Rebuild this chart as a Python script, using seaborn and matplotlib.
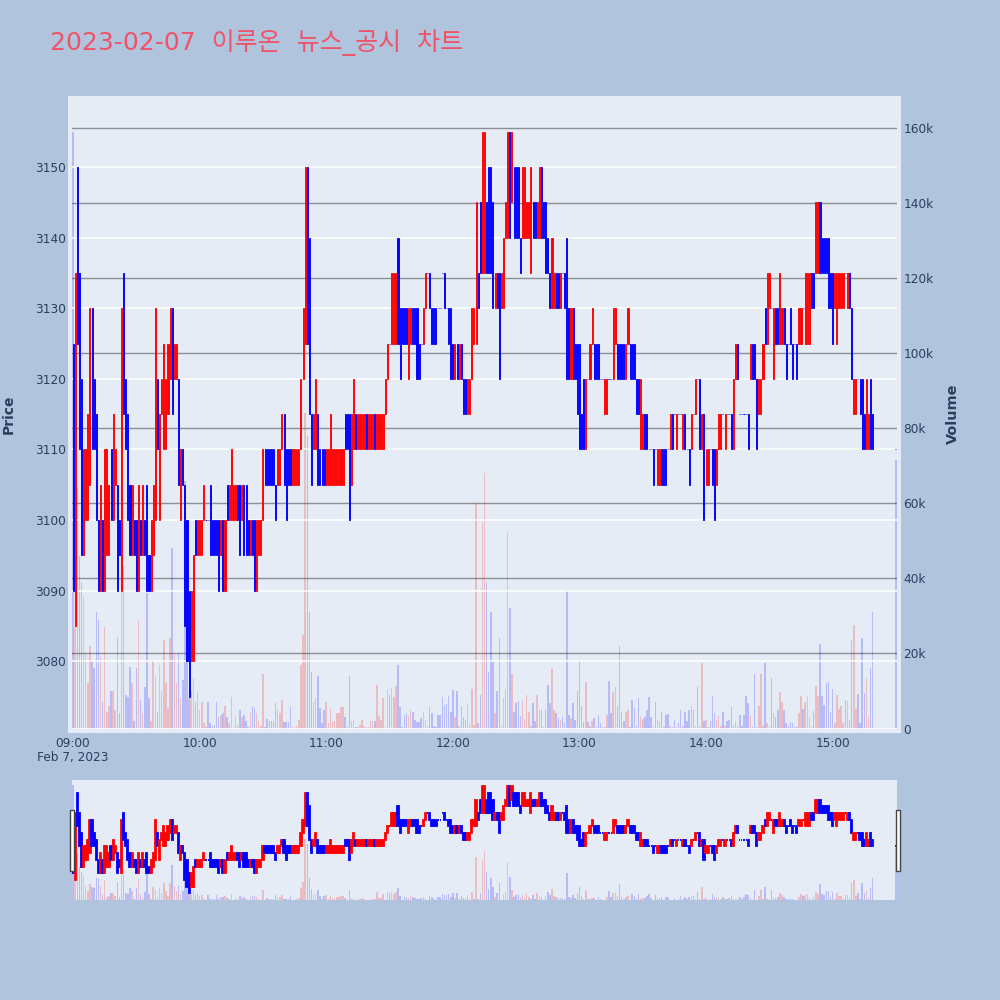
import matplotlib
matplotlib.use("Agg")
import matplotlib.pyplot as plt
from matplotlib.patches import Rectangle
import numpy as np
import pandas as pd
import seaborn as sns

title = "2023-02-07  이루온  뉴스_공시  차트"
minutes = list(range(380)) + [390]
opens = [
 3125,3085,3150,3135,3120,3095,3100,3100,3105,3130,
 3120,3115,3100,3090,3100,3090,3095,3095,3110,3100,
 3105,3105,3100,3090,3135,3120,3115,3105,3095,3100,
 3100,3090,3100,3095,3100,3105,3095,3090,3095,3100,
 3120,3100,3115,3110,3110,3115,3120,3130,3120,3120,
 3120,3100,3110,3105,3100,3090,3080,3080,3100,3095,
 3095,3095,3100,3100,3100,3105,3100,3100,3100,3100,
 3095,3100,3090,3105,3100,3100,3100,3100,3105,3105,
 3100,3105,3105,3100,3095,3100,3100,3090,3095,3095,
 3100,3110,3110,3110,3110,3110,3105,3105,3105,3110,
 3115,3110,3110,3110,3105,3105,3105,3105,3110,3120,
 3125,3150,3140,3115,3110,3110,3115,3110,3110,3110,
 3105,3105,3105,3105,3105,3105,3105,3105,3105,3115,
 3115,3115,3105,3110,3115,3110,3110,3110,3110,3115,
 3110,3110,3110,3115,3110,3110,3110,3110,3115,3120,
 3125,3125,3125,3125,3140,3130,3130,3130,3130,3120,
 3125,3130,3130,3130,3125,3125,3125,3130,3135,3135,
 3130,3130,3130,3130,3130,3135,3135,3130,3130,3130,
 3125,3120,3125,3120,3125,3120,3120,3115,3115,3120,
 3125,3125,3135,3145,3135,3135,3145,3150,3150,3145,
 3130,3135,3135,3130,3130,3140,3140,3155,3145,3150,
 3150,3150,3140,3140,3140,3140,3140,3135,3145,3145,
 3140,3140,3150,3145,3145,3140,3135,3130,3130,3135,
 3135,3130,3135,3135,3140,3130,3120,3130,3125,3125,
 3125,3115,3120,3110,3120,3120,3125,3125,3125,3125,
 3120,3120,3115,3115,3120,3120,3120,3125,3125,3125,
 3125,3125,3120,3125,3125,3125,3125,3120,3120,3110,
 3110,3115,3115,3110,3110,3110,3110,3105,3105,3110,
 3110,3110,3110,3110,3115,3115,3110,3115,3115,3110,
 3115,3110,3110,3110,3115,3115,3120,3120,3110,3115,
 3105,3105,3110,3110,3110,3105,3110,3110,3115,3110,
 3115,3115,3115,3110,3120,3125,3115,3115,3115,3115,
 3115,3120,3125,3125,3120,3115,3115,3120,3130,3125,
 3130,3130,3120,3130,3130,3125,3125,3130,3125,3125,
 3130,3125,3125,3125,3125,3125,3130,3125,3125,3125,
 3135,3135,3135,3135,3145,3140,3140,3140,3140,3135,
 3135,3130,3125,3130,3130,3130,3135,3130,3135,3130,
 3115,3115,3120,3120,3120,3115,3110,3110,3120,3115,
 3110]
closes = [
 3090,3135,3125,3110,3095,3110,3110,3115,3130,3110,
 3110,3100,3090,3105,3090,3110,3110,3105,3100,3115,
 3110,3090,3095,3130,3115,3110,3100,3095,3105,3095,
 3090,3105,3095,3105,3095,3090,3090,3100,3105,3130,
 3110,3115,3120,3125,3120,3125,3130,3115,3125,3125,
 3105,3110,3105,3085,3080,3075,3090,3095,3095,3100,
 3100,3100,3105,3100,3100,3095,3095,3095,3095,3090,
 3100,3090,3100,3100,3105,3110,3105,3105,3100,3095,
 3105,3095,3095,3095,3100,3095,3090,3100,3100,3100,
 3110,3105,3105,3105,3105,3105,3100,3110,3110,3115,
 3105,3100,3105,3105,3110,3110,3110,3110,3120,3130,
 3150,3125,3115,3105,3115,3120,3105,3105,3105,3105,
 3110,3110,3115,3110,3110,3110,3110,3110,3110,3110,
 3110,3100,3115,3120,3110,3115,3115,3115,3115,3110,
 3115,3115,3115,3110,3115,3115,3115,3115,3120,3125,
 3125,3135,3135,3135,3125,3120,3125,3125,3125,3130,
 3130,3125,3125,3120,3120,3125,3130,3135,3135,3130,
 3125,3125,3125,3130,3130,3135,3130,3130,3125,3120,
 3120,3125,3120,3125,3120,3115,3115,3120,3120,3130,
 3130,3145,3130,3135,3155,3155,3135,3135,3135,3130,
 3135,3130,3120,3135,3140,3145,3155,3140,3155,3140,
 3140,3140,3135,3150,3150,3145,3145,3150,3140,3140,
 3145,3150,3140,3140,3135,3135,3130,3140,3135,3130,
 3130,3135,3135,3130,3120,3120,3130,3120,3120,3115,
 3110,3110,3110,3120,3120,3125,3130,3120,3120,3120,
 3120,3120,3120,3120,3120,3120,3130,3130,3120,3120,
 3120,3120,3125,3130,3120,3120,3120,3115,3115,3120,
 3115,3110,3110,3110,3110,3105,3110,3110,3110,3105,
 3105,3105,3110,3115,3110,3115,3115,3115,3115,3115,
 3110,3110,3105,3115,3115,3120,3120,3110,3115,3100,
 3110,3110,3110,3105,3100,3110,3115,3115,3115,3115,
 3115,3115,3110,3120,3125,3120,3115,3115,3115,3115,
 3110,3125,3120,3120,3110,3120,3120,3125,3125,3135,
 3135,3130,3130,3125,3125,3135,3130,3125,3120,3125,
 3125,3120,3125,3120,3130,3130,3130,3135,3135,3135,
 3130,3130,3145,3145,3135,3135,3135,3135,3130,3130,
 3125,3135,3135,3135,3135,3135,3135,3135,3130,3120,
 3120,3120,3120,3115,3110,3110,3120,3115,3110,3110,
 3110]
volumes_k = [
 159,27,64,46,39,35,20,12,22,18,
 16,31,29,19,7,27,4.5,6,10,10,
 5,24.5,4,39,43,9,8.5,16.5,12,2,
 16,29,7.5,4,11,36,8,2,18,14,
 4.5,17,10,23.5,12,5.5,24,48,20,12,
 20,8,13,66,18,8,10,13.5,7,10,
 5,7,1.5,0.5,7,1.5,0.8,1,7,3,
 3.5,4,6,3,1.5,8.5,0.5,3,1,5,
 3,3.5,2,0.5,4.2,6,5.5,4.2,2,0.6,
 14.5,0.5,2.5,2,2,2,6.7,4.8,4,7.6,
 1.7,1.7,1.7,5.8,0.5,0.3,0.8,2.4,17,25,
 84,78,31,15,7,8,14,5.5,1.4,5,
 7,1.4,5.3,2.1,2.1,4,4,5.6,5.6,3,
 0.5,14,2.1,2.4,0.3,0.3,1,2.4,0.8,0.3,
 0.3,1.9,1.9,1.9,11.5,3.3,2.4,8,0.5,10.6,
 9,10.8,8.4,11.4,17,5.6,0.5,3.7,4,3.3,
 5,4.3,2.4,1.7,1.7,2.7,4.3,2.4,0.3,5.6,
 4,0.8,0.3,3.5,3.5,8.4,6.3,6.4,8.7,4.5,
 10.3,3,10,0.8,6,3,2.2,6.6,1.4,10.6,
 1,60,1.4,9,55,68,39,15,31,18,
 4,10,24,0.6,8,10.6,52,32,14.5,4.3,
 6.9,7.4,3.2,7.4,2.6,9,4.3,0.8,6.9,1.9,
 9,5,4.8,0.5,5,11.7,6.9,15.8,5,4.2,
 2.7,2.4,3,1.4,37,3.5,2.7,6.7,2.4,10,
 18,6.1,1.7,12.4,1.7,0.8,2.1,2.7,0.3,3.5,
 1.4,0.3,0.3,3.5,12.7,4,9.8,11,6,22,
 4.5,1.9,4.5,5,0.5,7.7,5.4,0.8,8,3,
 2.6,3,5,8.4,3,0.5,7.1,2.4,2.1,4.5,
 0.3,3.5,3.8,0.6,0.3,2.2,0.3,1.6,5,0.8,
 4.5,1.9,4.8,6.1,5,0.8,11,0.8,17.5,1.9,
 2.4,0.3,1.9,8.7,4,2.4,3.2,0.8,4.5,0.8,
 1.9,2.2,5.8,1,1.9,0.8,3.5,0.8,3.7,8.7,
 6.8,3.2,0.3,14.5,0.3,6,14.5,0.8,17.5,1.4,
 0.8,13.4,4.2,3,4.8,9.6,7.1,4.8,1.4,0.8,
 1.7,1.4,0.3,0.3,4,8.7,5.2,7.1,8.7,3,
 0.3,4.7,11.4,8.7,22.5,8.7,6.3,12.2,12.4,4.5,
 10.6,1.4,9,5.3,6.1,1.4,7.5,7.2,2.2,23.7,
 27.7,5.3,9.3,1.4,24,9.5,13.4,3,16,31,
 71.6]
price_ticks = [3080, 3090, 3100, 3110, 3120, 3130, 3140, 3150]
volume_ticks_k = [0, 20, 40, 60, 80, 100, 120, 140, 160]
time_ticks = [0, 60, 120, 180, 240, 300, 360]
time_labels = ["09:00", "10:00", "11:00", "12:00", "13:00", "14:00", "15:00"]

assert len(opens) == len(closes) == len(volumes_k) == len(minutes), (len(opens), len(closes), len(volumes_k), len(minutes))

UP, DOWN = "#FF0000", "#0000FF"
BG, PAGE = "#E5ECF6", "#B0C4DE"
INK = "#2A3F5F"

sns.set_theme(style="white")
plt.rcParams["font.family"] = ["DejaVu Sans", "Noto Sans CJK KR"]

df = pd.DataFrame({"minute": minutes, "open": opens, "close": closes, "volume": volumes_k})
df["direction"] = np.where(df["close"] > df["open"], "up", "down")
df["low"] = df[["open", "close"]].min(axis=1)
df["span"] = (df["close"] - df["open"]).abs()

fig = plt.figure(figsize=(10, 10), dpi=100, facecolor=PAGE)
W = H = 1000.0


def box(x0, y0, x1, y1):
    return [x0 / W, 1 - y1 / H, (x1 - x0) / W, (y1 - y0) / H]


fig.add_artist(Rectangle((68 / W, 1 - 733 / H), (901 - 68) / W, (733 - 96) / H,
                         transform=fig.transFigure, facecolor=BG, edgecolor="none", zorder=-5))
fig.add_artist(Rectangle((72 / W, 1 - 900 / H), (897 - 72) / W, 120 / H,
                         transform=fig.transFigure, facecolor=BG, edgecolor="none", zorder=-5))


def draw(ax_v, ax_p, candle_width, candle_line):
    sns.barplot(data=df, x="minute", y="volume", hue="direction", native_scale=True,
                dodge=False, width=0.72, palette={"up": UP, "down": DOWN}, hue_order=["up", "down"],
                alpha=0.2, saturation=1, legend=False, errorbar=None, linewidth=0, ax=ax_v)
    colors = [UP if d == "up" else DOWN for d in df["direction"]]
    ax_p.bar(df["minute"], df["span"], bottom=df["low"], width=candle_width, color=colors,
             edgecolor=colors, linewidth=candle_line, zorder=3)
    for a in (ax_v, ax_p):
        a.set_xlim(-0.5, 390.5)
        a.patch.set_visible(False)
        a.set_xlabel("")
        a.set_ylabel("")
        for s in a.spines.values():
            s.set_visible(False)


# main panel
ax_vol = fig.add_axes(box(72, 100, 897, 729))
ax_price = ax_vol.twinx()
draw(ax_vol, ax_price, 0.5, 0.65)
ax_vol.set_ylim(-0.13, 167.4)
ax_price.set_ylim(3070.4, 3159.5)

ax_vol.yaxis.tick_right()
ax_vol.set_yticks(volume_ticks_k)
ax_vol.set_yticklabels(["0" if v == 0 else f"{v}k" for v in volume_ticks_k])
ax_vol.grid(axis="y", color="#808080", linewidth=1.0, alpha=0.85)
ax_vol.axhline(0, color="white", linewidth=2, zorder=1)
ax_vol.set_axisbelow(True)
ax_vol.tick_params(axis="y", length=0, pad=4.5, labelsize=8.7, labelcolor=INK,
                   left=False, right=False, labelleft=False, labelright=True)

ax_price.yaxis.tick_left()
ax_price.set_yticks(price_ticks)
ax_price.set_yticklabels([str(p) for p in price_ticks])
ax_price.grid(axis="y", color="white", linewidth=1.1)
ax_price.set_axisbelow(True)
ax_price.tick_params(axis="y", length=0, pad=4.5, labelsize=8.7, labelcolor=INK,
                     left=False, right=False, labelleft=True, labelright=False)

ax_vol.set_xticks(time_ticks)
ax_vol.set_xticklabels(time_labels)
ax_vol.tick_params(axis="x", length=0, pad=5.5, labelsize=8.7, labelcolor=INK)
ax_price.tick_params(axis="x", bottom=False, labelbottom=False)

fig.text(73 / W, 1 - 758 / H, "Feb 7, 2023", ha="center", va="center", fontsize=8.7, color=INK)
fig.text(9 / W, 1 - 414 / H, "Price", rotation=90, ha="center", va="center",
         fontsize=10, fontweight="bold", color=INK)
fig.text(953 / W, 1 - 414 / H, "Volume", rotation=90, ha="center", va="center",
         fontsize=10.4, fontweight="bold", color=INK)
fig.text(50 / W, 1 - 50 / H, title, ha="left", va="baseline", fontsize=18, color="#EF5368")

# range slider
ax_sv = fig.add_axes(box(72, 780, 897, 900))
ax_sp = ax_sv.twinx()
draw(ax_sv, ax_sp, 0.55, 1.3)
ax_sv.set_ylim(0, 166)
ax_sp.set_ylim(3070, 3159.7)
for a in (ax_sv, ax_sp):
    a.set_xticks([])
    a.set_yticks([])
    a.grid(False)

for x0 in (69.5, 895.5):
    fig.add_artist(Rectangle((x0 / W, 1 - 870.5 / H), 4 / W, 60.5 / H, transform=fig.transFigure,
                             facecolor="white", edgecolor="#444444", linewidth=1, zorder=10))

fig.savefig("out.png", dpi=100, facecolor=PAGE)
